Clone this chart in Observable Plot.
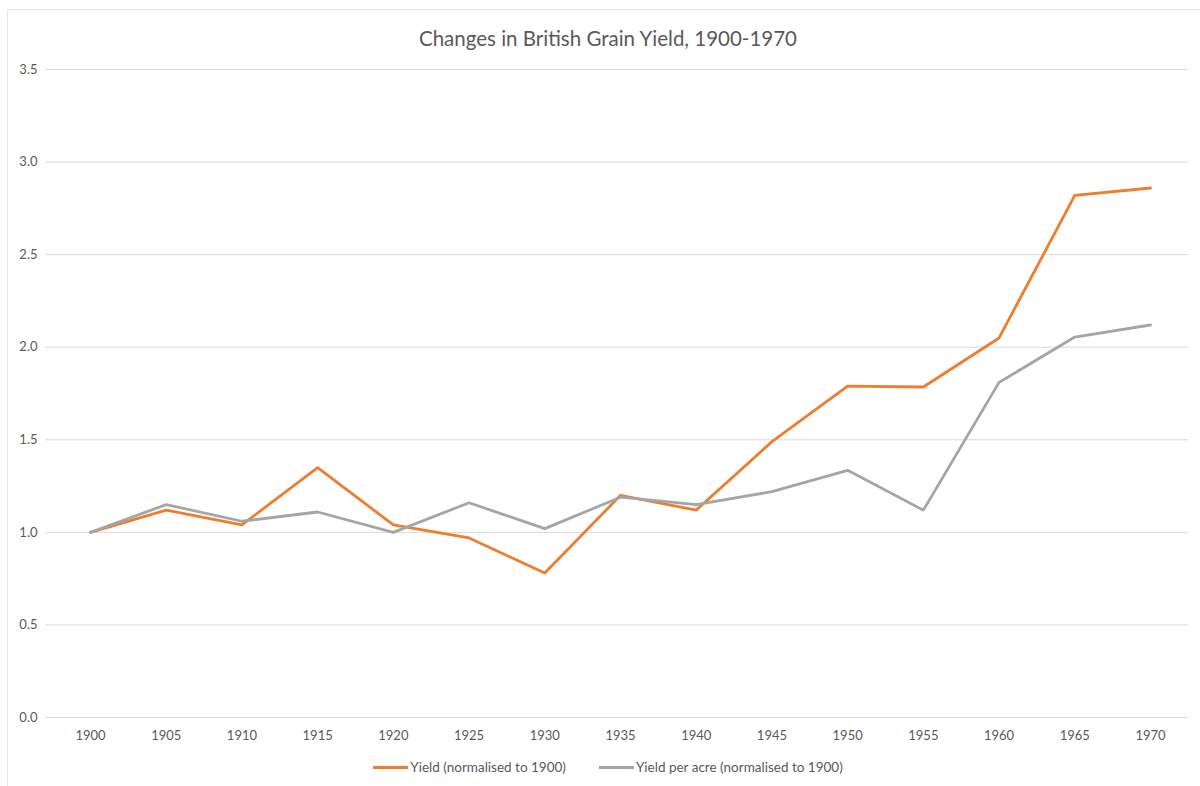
<!DOCTYPE html>
<html>
<head>
<meta charset="utf-8">
<script src="https://cdn.jsdelivr.net/npm/d3@7"></script>
<script src="https://cdn.jsdelivr.net/npm/@observablehq/plot@0.6"></script>
<style>
  body { margin: 0; background: #fff; font-family: Lato, "Open Sans", sans-serif; }
  #chart { position: relative; width: 1200px; height: 786px; overflow: hidden; }
  #frame { position: absolute; left: 7px; top: 9px; width: 1200px; height: 800px;
           border-left: 1px solid #e6e6e6; border-top: 1px solid #e6e6e6; }
  #title { position: absolute; top: 26px; left: 0; width: 1216px; text-align: center;
           font-size: 20.5px; color: #595959; }
  #plot { position: absolute; left: 0; top: 55px; }
  #legend { position: absolute; top: 759px; left: 0; width: 1216px; display: flex;
            justify-content: center; gap: 33px; font-size: 13.5px; color: #595959; }
  #legend .item { display: flex; align-items: center; }
  #legend .swatch { width: 35px; height: 3px; margin-right: 2px; }
</style>
</head>
<body>
<div id="chart">
  <div id="frame"></div>
  <div id="title"></div>
  <div id="plot"></div>
  <div id="legend"></div>
</div>
<script>
// Years on the category axis
const years = [1900, 1905, 1910, 1915, 1920, 1925, 1930, 1935, 1940, 1945, 1950, 1955, 1960, 1965, 1970];

// Total grain yield, normalised to 1900
const yieldTotal = [1.00, 1.12, 1.04, 1.35, 1.04, 0.97, 0.78, 1.20, 1.12, 1.49, 1.79, 1.785, 2.05, 2.82, 2.86];

// Grain yield per acre, normalised to 1900
const yieldPerAcre = [1.00, 1.15, 1.06, 1.11, 1.00, 1.16, 1.02, 1.19, 1.15, 1.22, 1.335, 1.12, 1.81, 2.055, 2.12];

const yTicks = [0, 0.5, 1.0, 1.5, 2.0, 2.5, 3.0, 3.5];
const seriesNames = ["Yield (normalised to 1900)", "Yield per acre (normalised to 1900)"];
const seriesColors = ["#ed7d31", "#a5a5a5"];
const titleText = "Changes in British Grain Yield, 1900-1970";

const rows = [];
years.forEach((yr, i) => {
  rows.push({year: yr, value: yieldTotal[i], series: seriesNames[0]});
  rows.push({year: yr, value: yieldPerAcre[i], series: seriesNames[1]});
});

document.getElementById("title").textContent = titleText;

const plot = Plot.plot({
  width: 1200,
  height: 700,
  marginLeft: 45,
  marginRight: 12,
  marginTop: 14,
  marginBottom: 38,
  style: { fontFamily: "Lato, 'Open Sans', sans-serif", fontSize: "13px", color: "#595959", background: "transparent" },
  x: { domain: [1900, 1970], range: [90, 1150] },
  y: { domain: [0, 3.5] },
  color: { domain: seriesNames, range: seriesColors },
  marks: [
    Plot.gridY(yTicks, { stroke: "#d9d9d9", strokeOpacity: 1, strokeWidth: 1 }),
    Plot.axisY(yTicks, { tickSize: 0, tickPadding: 8, tickFormat: d3.format(".1f"), label: null, fill: "#595959" }),
    Plot.axisX(years, { tickSize: 0, tickPadding: 13, tickFormat: d => String(d), label: null, fill: "#595959" }),
    Plot.line(rows, { x: "year", y: "value", z: "series", stroke: "series", strokeWidth: 2.8, strokeLinejoin: "miter", strokeLinecap: "round" })
  ]
});
document.getElementById("plot").appendChild(plot);

// Legend: line swatch followed by series name
const legend = document.getElementById("legend");
seriesNames.forEach((name, i) => {
  const item = document.createElement("div");
  item.className = "item";
  const sw = document.createElement("span");
  sw.className = "swatch";
  sw.style.background = seriesColors[i];
  const label = document.createElement("span");
  label.textContent = name;
  item.appendChild(sw);
  item.appendChild(label);
  legend.appendChild(item);
});
</script>
</body>
</html>
